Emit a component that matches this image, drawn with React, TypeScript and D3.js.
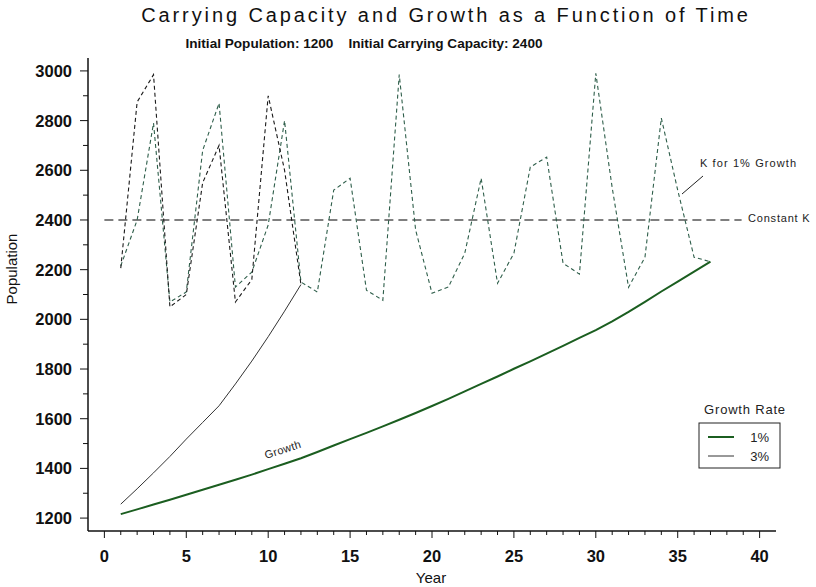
import React from 'react';
import * as d3 from 'd3';

// values
const yearsK1 = d3.range(1, 38);
const yearsK3 = d3.range(1, 13);

const k1 = [2215, 2400, 2790, 2070, 2110, 2680, 2870, 2130, 2190, 2380, 2800, 2150, 2110, 2520, 2568, 2117, 2077, 2985, 2360, 2105, 2130, 2266, 2568, 2145, 2266, 2613, 2653, 2226, 2182, 2990, 2530, 2129, 2250, 2810, 2520, 2250, 2232];
const k3 = [2206, 2875, 2985, 2050, 2100, 2550, 2700, 2070, 2160, 2900, 2600, 2140];

const growth1 = [1216, 1235, 1255, 1274, 1294, 1314, 1334, 1354, 1375, 1397, 1419, 1441, 1466, 1492, 1518, 1543, 1569, 1596, 1623, 1651, 1680, 1710, 1740, 1770, 1801, 1831, 1862, 1893, 1925, 1957, 1992, 2030, 2070, 2112, 2152, 2192, 2232];
const growth3 = [1256, 1318, 1382, 1448, 1518, 1585, 1652, 1740, 1832, 1930, 2033, 2140];

const constantK = 2400;
const xTicks = d3.range(0, 41, 5);
const yTicks = d3.range(1200, 3001, 200);

const W = 816;
const H = 587;
const FONT = '"Liberation Sans", Arial, sans-serif';

const App: React.FC = () => {
  const x = d3.scaleLinear().domain([-1, 41]).range([88, 776]);
  const y = d3.scaleLinear().domain([1148, 3052]).range([531, 58]);

  const line = d3.line<[number, number]>()
    .x(d => x(d[0]))
    .y(d => y(d[1]));

  const pts = (xs: number[], vs: number[]) => xs.map((v, i) => [v, vs[i]] as [number, number]);

  const minorX = d3.range(0, 41, 1).filter(v => v % 5 !== 0);
  const minorY = d3.range(1200, 3001, 100).filter(v => v % 200 !== 0);

  return (
    <svg width={W} height={H} style={{ position: 'absolute', left: 0, top: 0, background: '#fff' }} fontFamily={FONT}>
      {/* titles */}
      <text x={446} y={22} textAnchor="middle" fontSize={20} letterSpacing={2.9} fill="#111">
        Carrying Capacity and Growth as a Function of Time
      </text>
      <text x={364} y={48} textAnchor="middle" fontSize={13} fontWeight="bold" fill="#111"
        textLength={357} lengthAdjust="spacingAndGlyphs">
        Initial Population: 1200{'\u00a0\u00a0\u00a0\u00a0'}Initial Carrying Capacity: 2400
      </text>

      {/* constant K */}
      <line x1={x(0)} x2={x(38.9)} y1={y(constantK)} y2={y(constantK)}
        stroke="#555" strokeWidth={1.4} strokeDasharray="9,5" />
      <text x={748} y={222} fontSize={11} letterSpacing={0.8} fill="#222">Constant K</text>

      {/* carrying capacity curves */}
      <path d={line(pts(yearsK1, k1)) || ''} fill="none" stroke="#2e5e4a" strokeWidth={1.1} strokeDasharray="4,3" />
      <path d={line(pts(yearsK3, k3)) || ''} fill="none" stroke="#1a1a1a" strokeWidth={1.1} strokeDasharray="4,3" />

      {/* growth curves */}
      <path d={line(pts(yearsK3, growth3)) || ''} fill="none" stroke="#333" strokeWidth={1} />
      <path d={line(pts(yearsK1, growth1)) || ''} fill="none" stroke="#1b5e20" strokeWidth={2} />

      {/* annotations */}
      <text x={700} y={167} fontSize={11} letterSpacing={1.1} fill="#222">K for 1% Growth</text>
      <line x1={703} y1={176} x2={682} y2={194} stroke="#222" strokeWidth={1} />
      <text x={0} y={0} fontSize={11} letterSpacing={0.4} fill="#222"
        transform={`translate(266,459) rotate(-18)`}>Growth</text>

      {/* axes */}
      <line x1={88} x2={776} y1={531} y2={531} stroke="#111" strokeWidth={1.5} />
      <line x1={88} x2={88} y1={58} y2={531} stroke="#111" strokeWidth={1.5} />
      {xTicks.map(t => (
        <g key={'xt' + t}>
          <line x1={x(t)} x2={x(t)} y1={531} y2={538} stroke="#111" />
          <text x={x(t)} y={562} textAnchor="middle" fontSize={16.5} fontWeight="bold" fill="#111">{t}</text>
        </g>
      ))}
      {minorX.map(t => (
        <line key={'xm' + t} x1={x(t)} x2={x(t)} y1={531} y2={535} stroke="#111" />
      ))}
      {yTicks.map(t => (
        <g key={'yt' + t}>
          <line x1={80} x2={88} y1={y(t)} y2={y(t)} stroke="#111" />
          <text x={72} y={y(t) + 6} textAnchor="end" fontSize={16.5} fontWeight="bold" fill="#111">{t}</text>
        </g>
      ))}
      {minorY.map(t => (
        <line key={'ym' + t} x1={83} x2={88} y1={y(t)} y2={y(t)} stroke="#111" />
      ))}
      <text x={431} y={583} textAnchor="middle" fontSize={15} fill="#111">Year</text>
      <text transform="translate(17,269) rotate(-90)" textAnchor="middle" fontSize={15} fill="#111">Population</text>

      {/* legend */}
      <text x={745} y={414} textAnchor="middle" fontSize={13} letterSpacing={0.8} fill="#222">Growth Rate</text>
      <rect x={699} y={423} width={81} height={45} fill="none" stroke="#222" strokeWidth={1} />
      <line x1={708} x2={734} y1={437} y2={437} stroke="#1b5e20" strokeWidth={2} />
      <line x1={708} x2={734} y1={456} y2={456} stroke="#333" strokeWidth={1} />
      <text x={769} y={442} textAnchor="end" fontSize={13} fill="#222">1%</text>
      <text x={769} y={461} textAnchor="end" fontSize={13} fill="#222">3%</text>
    </svg>
  );
};

export default App;
